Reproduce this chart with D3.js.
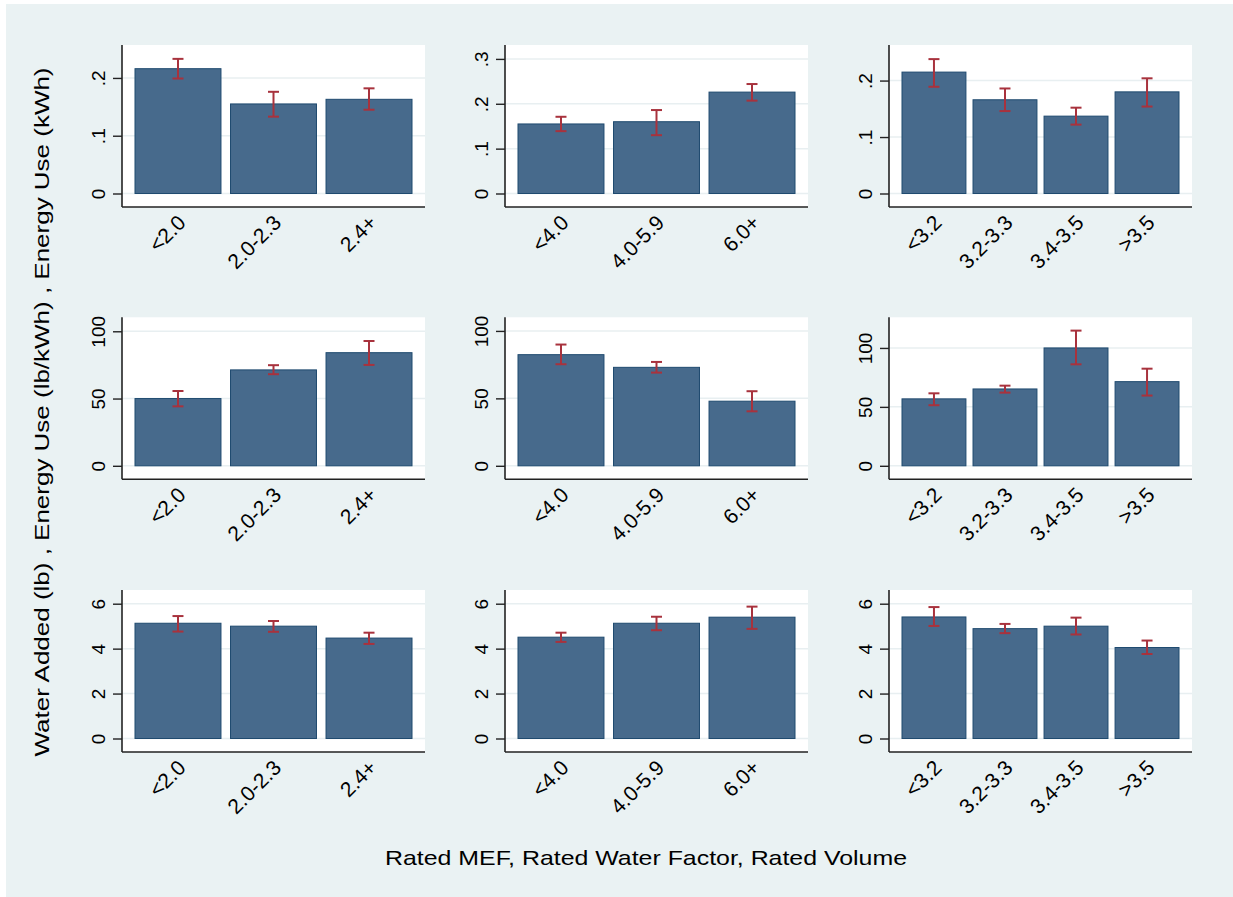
<!DOCTYPE html>
<html><head><meta charset="utf-8">
<script src="https://cdn.jsdelivr.net/npm/d3@7"></script>
<style>body{margin:0;background:#fff;} svg{display:block;font-family:"Liberation Sans",Arial,sans-serif;}</style>
</head><body><svg id="c" width="1233" height="897"></svg>
<script>
// Categories (x) per column
const mefCats = ["<2.0","2.0-2.3","2.4+"];
const wfCats  = ["<4.0","4.0-5.9","6.0+"];
const volCats = ["<3.2","3.2-3.3","3.4-3.5",">3.5"];

// Row 1: Energy Use (kWh)
const kwhMef = [0.216,0.155,0.163], kwhMefLo = [0.199,0.133,0.145], kwhMefHi = [0.233,0.176,0.182];
const kwhWf  = [0.155,0.160,0.226], kwhWfLo  = [0.139,0.130,0.207], kwhWfHi  = [0.171,0.186,0.244];
const kwhVol = [0.215,0.166,0.137,0.180], kwhVolLo = [0.189,0.146,0.122,0.154], kwhVolHi = [0.238,0.186,0.152,0.204];
// Row 2: Energy Use (lb/kWh)
const lbkMef = [50,71.3,84.1], lbkMefLo = [44.2,68.1,75], lbkMefHi = [55.6,74.8,92.8];
const lbkWf  = [82.4,73,47.9], lbkWfLo  = [75.3,69.1,40.4], lbkWfHi  = [89.9,77,55.3];
const lbkVol = [56.8,65.2,100,71.4], lbkVolLo = [51.4,62.1,86.1,59.6], lbkVolHi = [61.5,68,114.7,82.4];
// Row 3: Water Added (lb)
const watMef = [5.13,5.0,4.47], watMefLo = [4.76,4.75,4.21], watMefHi = [5.45,5.23,4.71];
const watWf  = [4.51,5.13,5.40], watWfLo  = [4.30,4.82,4.88], watWfHi  = [4.71,5.42,5.87];
const watVol = [5.41,4.89,5.0,4.05], watVolLo = [5.01,4.69,4.63,3.76], watVolHi = [5.85,5.10,5.38,4.36];

// Y tick labels and axis maxima
const ticksKwh1 = [0,0.1,0.2], ticksKwh2 = [0,0.1,0.2,0.3], ticksKwh3 = [0,0.1,0.2];
const ticksLbk = [0,50,100];
const ticksWat = [0,2,4,6];
const yMaxRow1 = [0.257,0.331,0.263];
const yMaxRow2 = [110.4,110.1,126];
const yMaxRow3 = [6.61,6.61,6.61];

const yTitle = "Water Added (lb) , Energy Use (lb/kWh) , Energy Use (kWh)";
const xTitle = "Rated MEF, Rated Water Factor, Rated Volume";

const panels = [
 {cats:mefCats,v:kwhMef,lo:kwhMefLo,hi:kwhMefHi,ticks:ticksKwh1,ymax:yMaxRow1[0]},
 {cats:wfCats,v:kwhWf,lo:kwhWfLo,hi:kwhWfHi,ticks:ticksKwh2,ymax:yMaxRow1[1]},
 {cats:volCats,v:kwhVol,lo:kwhVolLo,hi:kwhVolHi,ticks:ticksKwh3,ymax:yMaxRow1[2]},
 {cats:mefCats,v:lbkMef,lo:lbkMefLo,hi:lbkMefHi,ticks:ticksLbk,ymax:yMaxRow2[0]},
 {cats:wfCats,v:lbkWf,lo:lbkWfLo,hi:lbkWfHi,ticks:ticksLbk,ymax:yMaxRow2[1]},
 {cats:volCats,v:lbkVol,lo:lbkVolLo,hi:lbkVolHi,ticks:ticksLbk,ymax:yMaxRow2[2]},
 {cats:mefCats,v:watMef,lo:watMefLo,hi:watMefHi,ticks:ticksWat,ymax:yMaxRow3[0]},
 {cats:wfCats,v:watWf,lo:watWfLo,hi:watWfHi,ticks:ticksWat,ymax:yMaxRow3[1]},
 {cats:volCats,v:watVol,lo:watVolLo,hi:watVolHi,ticks:ticksWat,ymax:yMaxRow3[2]},
];

const svg = d3.select("#c");
svg.append("rect").attr("x",6).attr("y",4).attr("width",1227).attr("height",893).attr("fill","#eaf2f3");

const colX = [122,505,889], rowY = [45,317.3,590];
const pw = 303, ph = 162, zeroOff = 13.5, innerPad = 13;
const fmt = v => { if (v===0) return "0"; const s = String(v); return s.startsWith("0.") ? s.slice(1) : s; };

panels.forEach((p,i)=>{
  const g = svg.append("g").attr("transform",`translate(${colX[i%3]},${rowY[Math.floor(i/3)]})`);
  g.append("rect").attr("width",pw).attr("height",ph).attr("fill","#fff");
  const x = d3.scaleBand().domain(p.cats).range([innerPad,pw-innerPad]).paddingInner(0.1).paddingOuter(0);
  const y = d3.scaleLinear().domain([0,p.ymax]).range([ph-zeroOff,0]);
  // gridlines
  g.selectAll(".grid").data(p.ticks).join("line")
   .attr("x1",0).attr("x2",pw).attr("y1",d=>y(d)).attr("y2",d=>y(d))
   .attr("stroke","#e8eff1").attr("stroke-width",1.5);
  // bars
  g.selectAll(".bar").data(p.v).join("rect")
   .attr("x",(d,j)=>x(p.cats[j])).attr("width",x.bandwidth())
   .attr("y",d=>y(d)).attr("height",d=>y(0)-y(d))
   .attr("fill","#476a8c").attr("stroke","#1f4a6f").attr("stroke-width",1);
  // error bars
  const eg = g.append("g").attr("stroke","#a8323d").attr("stroke-width",2);
  p.v.forEach((d,j)=>{
    const cx = x(p.cats[j]) + x.bandwidth()/2;
    eg.append("line").attr("x1",cx).attr("x2",cx).attr("y1",y(p.lo[j])).attr("y2",y(p.hi[j]));
    eg.append("line").attr("x1",cx-5.5).attr("x2",cx+5.5).attr("y1",y(p.lo[j])).attr("y2",y(p.lo[j]));
    eg.append("line").attr("x1",cx-5.5).attr("x2",cx+5.5).attr("y1",y(p.hi[j])).attr("y2",y(p.hi[j]));
  });
  // y axis
  const ya = d3.axisLeft(y).tickValues(p.ticks).tickSize(9).tickPadding(4).tickFormat(fmt);
  const yg = g.append("g").call(ya);
  yg.select(".domain").attr("d",`M0,0V${ph}`).attr("stroke","#222").attr("stroke-width",1.6);
  yg.selectAll(".tick line").attr("stroke","#222").attr("stroke-width",1.4);
  yg.selectAll(".tick text").attr("font-size",19).attr("fill","#000")
    .attr("transform","rotate(-90)").attr("x",0).attr("dy",0).attr("y",-17)
    .attr("text-anchor","middle");
  // x axis
  const xa = d3.axisBottom(x).tickSize(0).tickPadding(0);
  const xg = g.append("g").attr("transform",`translate(0,${ph})`).call(xa);
  xg.select(".domain").attr("d",`M0,0H${pw}`).attr("stroke","#222").attr("stroke-width",1.6);
  xg.selectAll(".tick text").attr("font-size",21).attr("fill","#000")
    .attr("text-anchor","end").attr("dy",0).attr("y",0)
    .attr("transform","translate(9,17) rotate(-45)");
});

svg.append("text").attr("transform","translate(49,412) rotate(-90)").attr("text-anchor","middle")
  .attr("font-size",21).attr("fill","#000")
  .attr("textLength",689).attr("lengthAdjust","spacingAndGlyphs").text(yTitle);
svg.append("text").attr("x",646).attr("y",865).attr("text-anchor","middle")
  .attr("font-size",21).attr("fill","#000")
  .attr("textLength",522).attr("lengthAdjust","spacingAndGlyphs").text(xTitle);
</script></body></html>
